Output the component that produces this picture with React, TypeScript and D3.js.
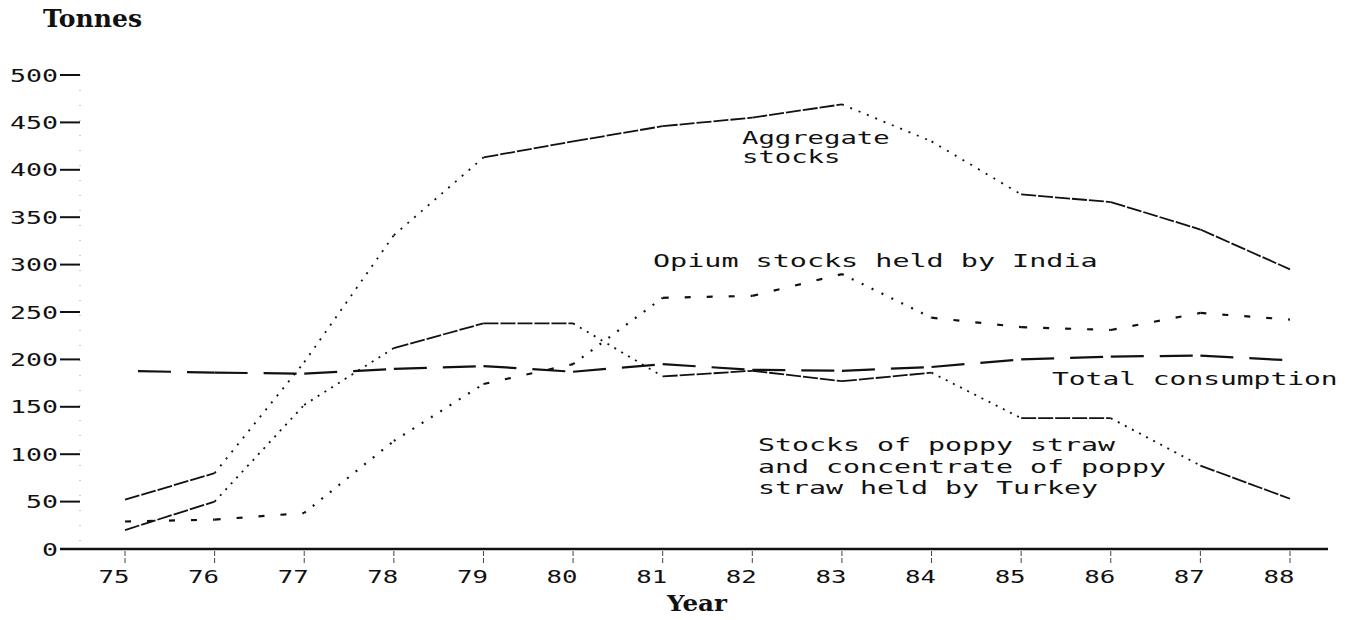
import React from "react";
import * as d3 from "d3";

// ---- Data ----
const years = [75, 76, 77, 78, 79, 80, 81, 82, 83, 84, 85, 86, 87, 88];
const aggregateStocks = [52, 80, 197, 331, 413, 430, 446, 455, 469, 430, 374, 366, 337, 295];
const indiaOpiumStocks = [29, 31, 38, 114, 174, 195, 265, 267, 290, 244, 234, 231, 249, 242];
const turkeyPoppyStrawStocks = [20, 50, 152, 212, 238, 238, 182, 188, 177, 186, 138, 138, 88, 53];
const totalConsumption = [188, 186, 185, 190, 193, 187, 195, 189, 188, 192, 200, 203, 204, 199];
const yTickValues = [0, 50, 100, 150, 200, 250, 300, 350, 400, 450, 500];

const yAxisTitle = "Tonnes";
const xAxisTitle = "Year";
const aggregateLabel = ["Aggregate", "stocks"];
const indiaLabel = ["Opium stocks held by India"];
const consumptionLabel = ["Total consumption"];
const turkeyLabel = ["Stocks of poppy straw", "and concentrate of poppy", "straw held by Turkey"];

const W = 1354;
const H = 620;
const INK = "#111";
const PLOT_FONT = "'DejaVu Sans Mono', monospace";
const TYPE_FONT = "'DejaVu Serif', 'Liberation Serif', serif";

type Style = { flat: string; steep: string; width: number; offset?: number };

const seriesList: { name: string; values: number[]; style: Style }[] = [
  { name: "aggregate", values: aggregateStocks, style: { flat: "15 2", steep: "2 7", width: 1.8 } },
  { name: "india", values: indiaOpiumStocks, style: { flat: "6 16", steep: "2 9", width: 2.2 } },
  { name: "turkey", values: turkeyPoppyStrawStocks, style: { flat: "15 2", steep: "2 6", width: 1.8 } },
  { name: "consumption", values: totalConsumption, style: { flat: "33 16", steep: "33 16", width: 2.2, offset: 36 } },
];

function PlotText({ x, y, text, perChar, size = 17, font = PLOT_FONT, weight = 400, anchor = "start" }: any) {
  return (
    <text
      x={x}
      y={y}
      fontFamily={font}
      fontSize={size}
      fontWeight={weight}
      fill={INK}
      textAnchor={anchor}
      textLength={text.length * perChar}
      lengthAdjust="spacingAndGlyphs"
    >
      {text}
    </text>
  );
}

export default function App() {
  const x = d3.scaleLinear().domain([75, 88]).range([125, 1290]);
  const y = d3.scaleLinear().domain([0, 500]).range([549, 75]);
  const line = d3
    .line<[number, number]>()
    .x((d) => x(d[0]))
    .y((d) => y(d[1]));

  const segments: any[] = [];
  seriesList.forEach((s) => {
    for (let i = 0; i < years.length - 1; i++) {
      const a: [number, number] = [years[i], s.values[i]];
      const b: [number, number] = [years[i + 1], s.values[i + 1]];
      const slope = Math.abs((y(b[1]) - y(a[1])) / (x(b[0]) - x(a[0])));
      const steep = slope > 0.4 && !(s.name === "aggregate" && i === years.length - 2);
      segments.push(
        <path
          key={`${s.name}-${i}`}
          d={line([a, b]) || ""}
          fill="none"
          stroke={INK}
          strokeWidth={s.style.width}
          strokeDasharray={steep ? s.style.steep : s.style.flat}
          strokeDashoffset={i === 0 && s.style.offset ? s.style.offset : 0}
        />
      );
    }
  });

  return (
    <svg
      width={W}
      height={H}
      style={{ position: "absolute", left: 0, top: 0, background: "#fff" }}
    >
      <rect x={0} y={0} width={W} height={H} fill="#fff" />

      {/* Y axis title */}
      <PlotText x={43} y={27} text={yAxisTitle} perChar={16.5} size={24} font={TYPE_FONT} weight={700} />

      {/* faint y axis */}
      <line x1={80} x2={80} y1={y(500)} y2={y(0)} stroke="#999" strokeWidth={1} strokeDasharray="1 14" />

      {/* Y ticks */}
      {yTickValues.map((v) => (
        <g key={v}>
          <line x1={60} x2={80} y1={y(v)} y2={y(v)} stroke={INK} strokeWidth={2} />
          <PlotText x={58} y={y(v) + 6.5} text={String(v)} perChar={16} anchor="end" />
        </g>
      ))}

      {/* X axis */}
      <line x1={60} x2={1328} y1={y(0)} y2={y(0)} stroke={INK} strokeWidth={2.4} />
      {years.map((yr) => (
        <g key={yr}>
          <line x1={x(yr)} x2={x(yr)} y1={y(0) + 2} y2={y(0) + 14} stroke="#444" strokeWidth={1} strokeDasharray="5 2" />
          <PlotText x={x(yr) - 11} y={583} text={String(yr)} perChar={15.5} anchor="middle" />
        </g>
      ))}
      <PlotText x={697} y={611} text={xAxisTitle} perChar={15} size={22} font={TYPE_FONT} weight={700} anchor="middle" />

      {/* Series */}
      {segments}

      {/* Labels */}
      {aggregateLabel.map((t, i) => (
        <PlotText key={t} x={742} y={144 + i * 19} text={t} perChar={16.4} />
      ))}
      {indiaLabel.map((t) => (
        <PlotText key={t} x={653} y={267} text={t} perChar={17.1} />
      ))}
      {consumptionLabel.map((t) => (
        <PlotText key={t} x={1052} y={385} text={t} perChar={16.8} />
      ))}
      {turkeyLabel.map((t, i) => (
        <PlotText key={t} x={758} y={451 + i * 21.5} text={t} perChar={17} />
      ))}
    </svg>
  );
}
